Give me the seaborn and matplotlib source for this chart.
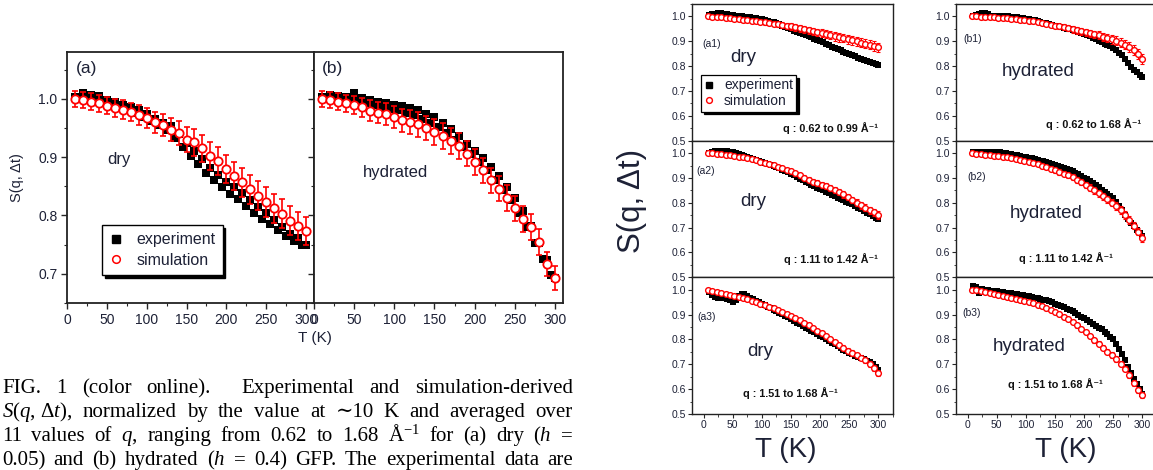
import matplotlib
matplotlib.use("Agg")
import matplotlib.pyplot as plt
from matplotlib.lines import Line2D
from matplotlib.ticker import MultipleLocator
import seaborn as sns

# ---------------------------------------------------------------- data
# temperature grids (K)
T_EXP = [10, 15, 20, 25, 30, 35, 40, 45, 50, 55,
         60, 65, 70, 75, 80, 85, 90, 95, 100, 105,
         110, 115, 120, 125, 130, 135, 140, 145, 150, 155,
         160, 165, 170, 175, 180, 185, 190, 195, 200, 205,
         210, 215, 220, 225, 230, 235, 240, 245, 250, 255,
         260, 265, 270, 275, 280, 285, 290, 295, 300]
T_SIM = [10, 20, 30, 40, 50, 60, 70, 80, 90, 100,
         110, 120, 130, 140, 150, 160, 170, 180, 190, 200,
         210, 220, 230, 240, 250, 260, 270, 280, 290, 300]
T_SIM_Q = [7.5, 15, 22.5, 30, 37.5, 45, 52.5, 60, 67.5, 75,
           82.5, 90, 97.5, 105, 112.5, 120, 127.5, 135, 142.5, 150,
           157.5, 165, 172.5, 180, 187.5, 195, 202.5, 210, 217.5, 225,
           232.5, 240, 247.5, 255, 262.5, 270, 277.5, 285, 292.5, 300]

# q-averaged S(q, dt): (a) dry, (b) hydrated
EXP_DRY = [1.003, 1.001, 1.009, 1.002, 1.006, 0.999, 1.004, 0.995, 0.998, 0.990,
           0.994, 0.986, 0.990, 0.983, 0.985, 0.976, 0.980, 0.968, 0.973, 0.962,
           0.966, 0.955, 0.959, 0.947, 0.953, 0.933, 0.939, 0.917, 0.924, 0.902,
           0.911, 0.888, 0.896, 0.873, 0.882, 0.860, 0.870, 0.849, 0.858, 0.837,
           0.848, 0.828, 0.839, 0.817, 0.826, 0.804, 0.814, 0.794, 0.804, 0.786,
           0.793, 0.775, 0.780, 0.764, 0.769, 0.757, 0.762, 0.749, 0.750]
SIM_DRY = [1.000, 0.998, 0.995, 0.992, 0.988, 0.984, 0.981, 0.977, 0.972, 0.967,
           0.960, 0.955, 0.947, 0.941, 0.930, 0.925, 0.915, 0.902, 0.893, 0.880,
           0.868, 0.857, 0.845, 0.834, 0.823, 0.812, 0.803, 0.791, 0.782, 0.773]
ERR_DRY = [0.014, 0.014, 0.014, 0.015, 0.015, 0.015, 0.016, 0.016, 0.017, 0.017,
           0.018, 0.019, 0.020, 0.021, 0.022, 0.023, 0.023, 0.024, 0.024, 0.024,
           0.024, 0.025, 0.025, 0.025, 0.025, 0.025, 0.025, 0.025, 0.024, 0.024]
EXP_HYD = [1.003, 1.000, 1.007, 0.999, 1.004, 0.999, 1.003, 1.000, 1.009, 0.996,
           1.001, 0.992, 0.998, 0.989, 0.995, 0.986, 0.993, 0.983, 0.990, 0.980,
           0.988, 0.976, 0.984, 0.972, 0.980, 0.965, 0.974, 0.959, 0.968, 0.952,
           0.959, 0.942, 0.948, 0.930, 0.936, 0.917, 0.923, 0.905, 0.911, 0.892,
           0.898, 0.877, 0.883, 0.861, 0.867, 0.844, 0.849, 0.826, 0.830, 0.805,
           0.807, 0.780, 0.782, 0.753, 0.752, 0.725, 0.724, 0.698, 0.693]
SIM_HYD = [1.000, 0.998, 0.995, 0.992, 0.989, 0.985, 0.979, 0.976, 0.974, 0.969,
           0.963, 0.960, 0.956, 0.950, 0.943, 0.936, 0.927, 0.919, 0.906, 0.892,
           0.877, 0.860, 0.846, 0.830, 0.812, 0.794, 0.780, 0.754, 0.717, 0.693]
ERR_HYD = [0.014, 0.014, 0.015, 0.015, 0.016, 0.017, 0.018, 0.018, 0.019, 0.019,
           0.020, 0.020, 0.021, 0.021, 0.022, 0.022, 0.022, 0.022, 0.022, 0.022,
           0.022, 0.022, 0.022, 0.022, 0.022, 0.022, 0.022, 0.022, 0.021, 0.021]

# q-resolved S(q, dt) for three q ranges
EXP_A1 = [1.004, 1.008, 1.011, 1.012, 1.013, 1.010, 1.008, 1.007, 1.005, 1.003,
          1.002, 1.000, 0.999, 0.998, 0.996, 0.995, 0.993, 0.991, 0.989, 0.985,
          0.982, 0.979, 0.976, 0.973, 0.968, 0.963, 0.958, 0.953, 0.948, 0.943,
          0.939, 0.934, 0.930, 0.926, 0.921, 0.916, 0.911, 0.906, 0.901, 0.896,
          0.890, 0.884, 0.879, 0.874, 0.868, 0.863, 0.858, 0.853, 0.849, 0.844,
          0.839, 0.834, 0.829, 0.825, 0.820, 0.816, 0.812, 0.808, 0.805]
SIM_A1 = [1.000, 0.999, 0.997, 0.996, 0.994, 0.992, 0.990, 0.988, 0.986, 0.985,
          0.983, 0.981, 0.979, 0.976, 0.974, 0.971, 0.968, 0.966, 0.963, 0.960,
          0.956, 0.952, 0.948, 0.944, 0.940, 0.936, 0.933, 0.929, 0.925, 0.920,
          0.916, 0.913, 0.909, 0.904, 0.900, 0.895, 0.891, 0.886, 0.881, 0.876]
ERR_A1 = [0.004, 0.004, 0.005, 0.005, 0.005, 0.006, 0.006, 0.007, 0.007, 0.008,
          0.008, 0.009, 0.009, 0.010, 0.010, 0.011, 0.011, 0.012, 0.012, 0.013,
          0.013, 0.014, 0.014, 0.015, 0.015, 0.015, 0.016, 0.016, 0.016, 0.017,
          0.017, 0.017, 0.018, 0.018, 0.018, 0.018, 0.019, 0.019, 0.019, 0.019]
EXP_A2 = [1.000, 1.004, 1.007, 1.009, 1.009, 1.008, 1.007, 1.006, 1.004, 1.000,
          0.996, 0.992, 0.989, 0.986, 0.982, 0.978, 0.974, 0.970, 0.965, 0.961,
          0.957, 0.953, 0.949, 0.944, 0.939, 0.934, 0.929, 0.923, 0.917, 0.910,
          0.903, 0.897, 0.891, 0.885, 0.879, 0.873, 0.867, 0.861, 0.856, 0.851,
          0.845, 0.839, 0.833, 0.827, 0.821, 0.815, 0.810, 0.805, 0.800, 0.794,
          0.787, 0.780, 0.773, 0.767, 0.760, 0.753, 0.746, 0.740, 0.735]
SIM_A2 = [1.000, 0.999, 0.997, 0.995, 0.993, 0.991, 0.989, 0.986, 0.984, 0.980,
          0.976, 0.971, 0.966, 0.961, 0.956, 0.951, 0.945, 0.940, 0.933, 0.926,
          0.918, 0.910, 0.901, 0.892, 0.885, 0.879, 0.873, 0.866, 0.858, 0.851,
          0.843, 0.834, 0.824, 0.812, 0.800, 0.790, 0.780, 0.770, 0.761, 0.751]
ERR_A2 = [0.003, 0.003, 0.003, 0.004, 0.004, 0.004, 0.005, 0.005, 0.005, 0.006,
          0.006, 0.006, 0.007, 0.007, 0.007, 0.008, 0.008, 0.008, 0.009, 0.009,
          0.009, 0.010, 0.010, 0.010, 0.011, 0.011, 0.011, 0.012, 0.012, 0.012,
          0.013, 0.013, 0.013, 0.013, 0.014, 0.014, 0.014, 0.014, 0.015, 0.015]
EXP_A3 = [0.992, 0.980, 0.972, 0.968, 0.966, 0.965, 0.964, 0.958, 0.950, 0.958,
          0.975, 0.984, 0.982, 0.976, 0.968, 0.962, 0.956, 0.950, 0.944, 0.938,
          0.932, 0.926, 0.920, 0.914, 0.908, 0.902, 0.896, 0.889, 0.882, 0.875,
          0.868, 0.861, 0.854, 0.847, 0.840, 0.834, 0.828, 0.822, 0.815, 0.808,
          0.801, 0.794, 0.787, 0.780, 0.773, 0.766, 0.759, 0.752, 0.746, 0.740,
          0.735, 0.730, 0.725, 0.720, 0.714, 0.708, 0.701, 0.690, 0.677]
SIM_A3 = [1.000, 0.996, 0.992, 0.988, 0.984, 0.980, 0.976, 0.971, 0.966, 0.961,
          0.956, 0.950, 0.944, 0.938, 0.932, 0.925, 0.918, 0.911, 0.903, 0.895,
          0.886, 0.877, 0.867, 0.857, 0.846, 0.835, 0.824, 0.812, 0.800, 0.788,
          0.777, 0.766, 0.755, 0.745, 0.736, 0.727, 0.716, 0.703, 0.686, 0.665]
ERR_A3 = [0.003, 0.003, 0.003, 0.003, 0.004, 0.004, 0.004, 0.004, 0.005, 0.005,
          0.005, 0.005, 0.006, 0.006, 0.006, 0.006, 0.007, 0.007, 0.007, 0.007,
          0.008, 0.008, 0.008, 0.008, 0.009, 0.009, 0.009, 0.009, 0.010, 0.010,
          0.010, 0.010, 0.011, 0.011, 0.011, 0.011, 0.012, 0.012, 0.012, 0.012]
EXP_B1 = [1.000, 1.004, 1.008, 1.012, 1.013, 1.008, 1.003, 0.998, 1.001, 1.003,
          1.002, 1.001, 1.000, 0.999, 0.998, 0.997, 0.995, 0.993, 0.991, 0.989,
          0.987, 0.984, 0.981, 0.978, 0.975, 0.972, 0.969, 0.966, 0.963, 0.960,
          0.957, 0.954, 0.951, 0.948, 0.945, 0.942, 0.939, 0.935, 0.931, 0.926,
          0.921, 0.915, 0.909, 0.903, 0.897, 0.891, 0.886, 0.880, 0.873, 0.864,
          0.854, 0.843, 0.828, 0.812, 0.797, 0.785, 0.775, 0.766, 0.758]
SIM_B1 = [1.000, 1.000, 0.999, 0.998, 0.997, 0.996, 0.994, 0.993, 0.992, 0.991,
          0.989, 0.987, 0.985, 0.983, 0.980, 0.977, 0.974, 0.971, 0.967, 0.963,
          0.960, 0.956, 0.952, 0.948, 0.944, 0.940, 0.936, 0.932, 0.928, 0.924,
          0.919, 0.914, 0.908, 0.902, 0.895, 0.886, 0.877, 0.865, 0.848, 0.827]
ERR_B1 = [0.003, 0.003, 0.004, 0.004, 0.004, 0.005, 0.005, 0.005, 0.006, 0.006,
          0.006, 0.007, 0.007, 0.008, 0.008, 0.009, 0.009, 0.010, 0.010, 0.011,
          0.011, 0.012, 0.012, 0.013, 0.013, 0.014, 0.014, 0.015, 0.015, 0.016,
          0.016, 0.017, 0.017, 0.018, 0.018, 0.019, 0.019, 0.020, 0.020, 0.020]
EXP_B2 = [1.003, 1.005, 1.006, 1.006, 1.005, 1.005, 1.004, 1.004, 1.003, 1.006,
          1.000, 0.999, 0.997, 0.995, 0.993, 0.991, 0.988, 0.986, 0.984, 0.981,
          0.979, 0.977, 0.974, 0.970, 0.967, 0.963, 0.960, 0.956, 0.952, 0.948,
          0.944, 0.940, 0.936, 0.932, 0.927, 0.921, 0.914, 0.907, 0.900, 0.894,
          0.887, 0.880, 0.871, 0.862, 0.853, 0.844, 0.834, 0.826, 0.818, 0.804,
          0.787, 0.770, 0.752, 0.736, 0.720, 0.705, 0.690, 0.677, 0.665]
SIM_B2 = [1.000, 0.998, 0.996, 0.994, 0.992, 0.990, 0.988, 0.986, 0.983, 0.980,
          0.977, 0.974, 0.970, 0.966, 0.961, 0.956, 0.950, 0.944, 0.938, 0.931,
          0.924, 0.917, 0.910, 0.902, 0.892, 0.882, 0.872, 0.861, 0.850, 0.839,
          0.827, 0.814, 0.801, 0.787, 0.771, 0.750, 0.730, 0.708, 0.684, 0.659]
ERR_B2 = [0.003, 0.003, 0.003, 0.004, 0.004, 0.004, 0.005, 0.005, 0.005, 0.006,
          0.006, 0.006, 0.007, 0.007, 0.008, 0.008, 0.009, 0.009, 0.010, 0.010,
          0.011, 0.011, 0.011, 0.012, 0.012, 0.012, 0.013, 0.013, 0.013, 0.014,
          0.014, 0.014, 0.014, 0.015, 0.015, 0.015, 0.015, 0.015, 0.015, 0.015]
EXP_B3 = [1.015, 1.012, 0.985, 1.002, 1.000, 0.998, 0.996, 0.995, 0.993, 0.991,
          0.990, 0.988, 0.987, 0.985, 0.983, 0.981, 0.979, 0.977, 0.975, 0.973,
          0.971, 0.968, 0.966, 0.963, 0.960, 0.957, 0.953, 0.949, 0.944, 0.939,
          0.934, 0.929, 0.924, 0.919, 0.913, 0.906, 0.899, 0.892, 0.885, 0.878,
          0.871, 0.864, 0.856, 0.848, 0.840, 0.831, 0.821, 0.811, 0.800, 0.782,
          0.762, 0.740, 0.716, 0.690, 0.665, 0.642, 0.620, 0.600, 0.582]
SIM_B3 = [1.000, 0.997, 0.994, 0.991, 0.988, 0.984, 0.980, 0.976, 0.972, 0.968,
          0.964, 0.960, 0.955, 0.950, 0.945, 0.939, 0.933, 0.926, 0.919, 0.911,
          0.902, 0.892, 0.882, 0.870, 0.857, 0.843, 0.829, 0.813, 0.797, 0.782,
          0.767, 0.751, 0.737, 0.721, 0.703, 0.682, 0.655, 0.625, 0.598, 0.575]
ERR_B3 = [0.003, 0.003, 0.003, 0.003, 0.004, 0.004, 0.004, 0.004, 0.005, 0.005,
          0.005, 0.005, 0.006, 0.006, 0.006, 0.006, 0.007, 0.007, 0.007, 0.007,
          0.008, 0.008, 0.008, 0.008, 0.009, 0.009, 0.009, 0.009, 0.010, 0.010,
          0.010, 0.010, 0.011, 0.011, 0.011, 0.011, 0.012, 0.012, 0.012, 0.012]

Q_LABELS = {"a1": "q : 0.62 to 0.99 Å⁻¹", "a2": "q : 1.11 to 1.42 Å⁻¹",
            "a3": "q : 1.51 to 1.68 Å⁻¹", "b1": "q : 0.62 to 1.68 Å⁻¹",
            "b2": "q : 1.11 to 1.42 Å⁻¹", "b3": "q : 1.51 to 1.68 Å⁻¹"}

CAPTION = [
    "FIG. 1 (color online).  Experimental and simulation-derived",
    r"$S(q,\,\Delta{t})$, normalized by the value at ∼10 K and averaged over",
    r"11 values of $q$, ranging from 0.62 to 1.68 Å$^{-1}$ for (a) dry ($h$ =",
    r"0.05) and (b) hydrated ($h$ = 0.4) GFP. The experimental data are",
]

# ---------------------------------------------------------------- style
sns.set_theme(style="ticks")
plt.rcParams["font.family"] = ["Liberation Sans", "DejaVu Sans"]
plt.rcParams["mathtext.fontset"] = "custom"
plt.rcParams["mathtext.rm"] = "Liberation Serif"
plt.rcParams["mathtext.it"] = "Liberation Serif:italic"
plt.rcParams["mathtext.bf"] = "Liberation Serif:bold"

INK = "#1d2136"
SERIF = ["Liberation Serif", "DejaVu Serif"]
W, H = 1153, 470
fig = plt.figure(figsize=(W / 100, H / 100), dpi=100)
fig.patch.set_facecolor("white")


def axes_px(x0, y0, x1, y1):
    return fig.add_axes([x0 / W, 1 - y1 / H, (x1 - x0) / W, (y1 - y0) / H])


def text_px(x, y, s, **kw):
    kw.setdefault("color", INK)
    return fig.text(x / W, 1 - y / H, s, **kw)


def draw_panel(ax, exp, t_sim, sim, err, sq, ci, ci_lw, cap, elw):
    sns.scatterplot(x=T_EXP, y=exp, ax=ax, marker="s", s=sq, color="black",
                    edgecolor="black", linewidth=0, zorder=2)
    ax.errorbar(t_sim, sim, yerr=err, fmt="none", ecolor="red", elinewidth=elw,
                capsize=cap, capthick=elw, zorder=3)
    sns.scatterplot(x=t_sim, y=sim, ax=ax, marker="o", s=ci, color="white",
                    edgecolor="red", linewidth=ci_lw, zorder=4)
    ax.set(xlabel="", ylabel="")
    for sp in ax.spines.values():
        sp.set_visible(True)
        sp.set_color("#222222")


# ---------------------------------------------------------------- left figure
ax_a = axes_px(67, 52, 314, 303)
ax_b = axes_px(314, 52, 563, 303)
draw_panel(ax_a, EXP_DRY, T_SIM, SIM_DRY, ERR_DRY, 34, 36, 1.3, 2.5, 1.2)
draw_panel(ax_b, EXP_HYD, T_SIM, SIM_HYD, ERR_HYD, 34, 36, 1.3, 2.5, 1.2)
for ax in (ax_a, ax_b):
    ax.set_xlim(0, 310)
    ax.set_ylim(0.65, 1.08)
    ax.xaxis.set_major_locator(MultipleLocator(50))
    ax.xaxis.set_minor_locator(MultipleLocator(25))
    ax.yaxis.set_major_locator(MultipleLocator(0.1))
    ax.yaxis.set_minor_locator(MultipleLocator(0.05))
    ax.tick_params(which="major", direction="out", length=4, width=1.0,
                   labelsize=10, labelcolor=INK, pad=3)
    ax.tick_params(which="minor", direction="out", length=2.5, width=0.8)
    for sp in ax.spines.values():
        sp.set_linewidth(1.3)
ax_a.set_yticks([0.7, 0.8, 0.9, 1.0])
ax_b.set_yticks([0.7, 0.8, 0.9, 1.0])
ax_b.tick_params(labelleft=False)

leg = ax_a.legend(
    handles=[Line2D([], [], ls="none", marker="s", ms=5.5, color="black"),
             Line2D([], [], ls="none", marker="o", ms=5.5, mfc="white",
                    mec="red", mew=1.1)],
    labels=["experiment", "simulation"], loc="upper left",
    bbox_to_anchor=((102 - 67) / 247, 1 - (225 - 52) / 251), borderaxespad=0,
    fontsize=11.5, frameon=True, fancybox=False, edgecolor="black",
    handlelength=0.9, handletextpad=0.8, labelspacing=0.35, borderpad=0.45,
    shadow={"color": "black", "alpha": 1.0})
leg.get_frame().set_linewidth(1.0)
for t in leg.get_texts():
    t.set_color(INK)

text_px(76, 68, "(a)", fontsize=12.5, va="center", ha="left")
text_px(322, 68, "(b)", fontsize=12.5, va="center", ha="left")
text_px(107, 164, "dry", fontsize=12, va="baseline", ha="left")
text_px(363, 177, "hydrated", fontsize=12, va="baseline", ha="left")
text_px(17, 178, "S(q, Δt)", fontsize=10.5, rotation=90, va="center", ha="center")
text_px(315, 338, "T (K)", fontsize=11, va="center", ha="center")

# ---------------------------------------------------------------- caption
renderer = fig.canvas.get_renderer()
x_first, x_last = 2, 573
for line, base in zip(CAPTION, [393, 417, 441, 465]):
    words = line.split(" ")
    items = [text_px(0, base, w, fontsize=15, family=SERIF, color="black",
                     va="baseline", ha="left") for w in words]
    widths = [it.get_window_extent(renderer).width if w else 0.0
              for it, w in zip(items, words)]
    gap = (x_last - x_first - sum(widths)) / (len(words) - 1)
    x = x_first
    for it, wd in zip(items, widths):
        it.set_x(x / W)
        x += wd + gap

# ---------------------------------------------------------------- right figure
ROWS = [(4, 140.7), (140.7, 277.3), (277.3, 414)]
panels = {
    "a1": (EXP_A1, SIM_A1, ERR_A1), "a2": (EXP_A2, SIM_A2, ERR_A2),
    "a3": (EXP_A3, SIM_A3, ERR_A3), "b1": (EXP_B1, SIM_B1, ERR_B1),
    "b2": (EXP_B2, SIM_B2, ERR_B2), "b3": (EXP_B3, SIM_B3, ERR_B3),
}
axes = {}
for col, x0 in (("a", 692), ("b", 956)):
    for r, (y0, y1) in enumerate(ROWS):
        key = f"{col}{r + 1}"
        ax = axes_px(x0, y0, x0 + 201, y1)
        exp, sim, err = panels[key]
        draw_panel(ax, exp, T_SIM_Q, sim, err, 17, 17, 1.0, 1.5, 0.8)
        ax.set_xlim(-20, 325)
        ax.set_ylim(0.5, 1.05)
        ax.set_xticks([0, 50, 100, 150, 200, 250, 300])
        ax.xaxis.set_minor_locator(MultipleLocator(25))
        ax.set_yticks([0.5, 0.6, 0.7, 0.8, 0.9, 1.0])
        ax.yaxis.set_minor_locator(MultipleLocator(0.05))
        ax.tick_params(which="major", direction="out", length=3, width=0.8,
                       labelsize=7.5, labelcolor=INK, pad=1.5)
        ax.tick_params(which="minor", direction="out", length=1.8, width=0.6)
        for sp in ax.spines.values():
            sp.set_linewidth(1.0)
        if r < 2:
            ax.tick_params(labelbottom=False)
        axes[key] = ax

leg2 = axes["a1"].legend(
    handles=[Line2D([], [], ls="none", marker="s", ms=4, color="black"),
             Line2D([], [], ls="none", marker="o", ms=4.2, mfc="white",
                    mec="red", mew=1.0)],
    labels=["experiment", "simulation"], loc="upper left",
    bbox_to_anchor=((701 - 692) / 201, 1 - (75 - 4) / 136.7), borderaxespad=0,
    fontsize=10, frameon=True, fancybox=False, edgecolor="black",
    handlelength=0.7, handletextpad=0.7, labelspacing=0.12, borderpad=0.25,
    shadow={"color": "black", "alpha": 1.0})
leg2.get_frame().set_linewidth(0.9)
for t in leg2.get_texts():
    t.set_color(INK)

# panel tags, sample states and q ranges
for key, (x, y) in {"a1": (702, 44), "a2": (696, 171), "a3": (697, 317),
                    "b1": (963, 39), "b2": (967, 177), "b3": (962, 313)}.items():
    text_px(x, y, f"({key})", fontsize=7.5, va="center", ha="left")
for s, (x, y) in [("dry", (730, 62)), ("dry", (740, 206)), ("dry", (747, 356)),
                  ("hydrated", (1002, 76)), ("hydrated", (1010, 218)),
                  ("hydrated", (993, 351))]:
    text_px(x, y, s, fontsize=13.5, va="baseline", ha="left")
for key, (x, y) in {"a1": (878, 132), "a2": (878, 263), "a3": (838, 397),
                    "b1": (1141, 128), "b2": (1113, 262), "b3": (1103, 388)}.items():
    text_px(x, y, Q_LABELS[key], fontsize=7.8, fontweight="bold", va="baseline",
            ha="right", color="#111111")

text_px(632, 201, "S(q, Δt)", fontsize=22.5, rotation=90, va="center", ha="center")
text_px(786, 450, "T (K)", fontsize=20, va="center", ha="center")
text_px(1066, 450, "T (K)", fontsize=20, va="center", ha="center")

fig.savefig("out.png", dpi=100, facecolor="white")
